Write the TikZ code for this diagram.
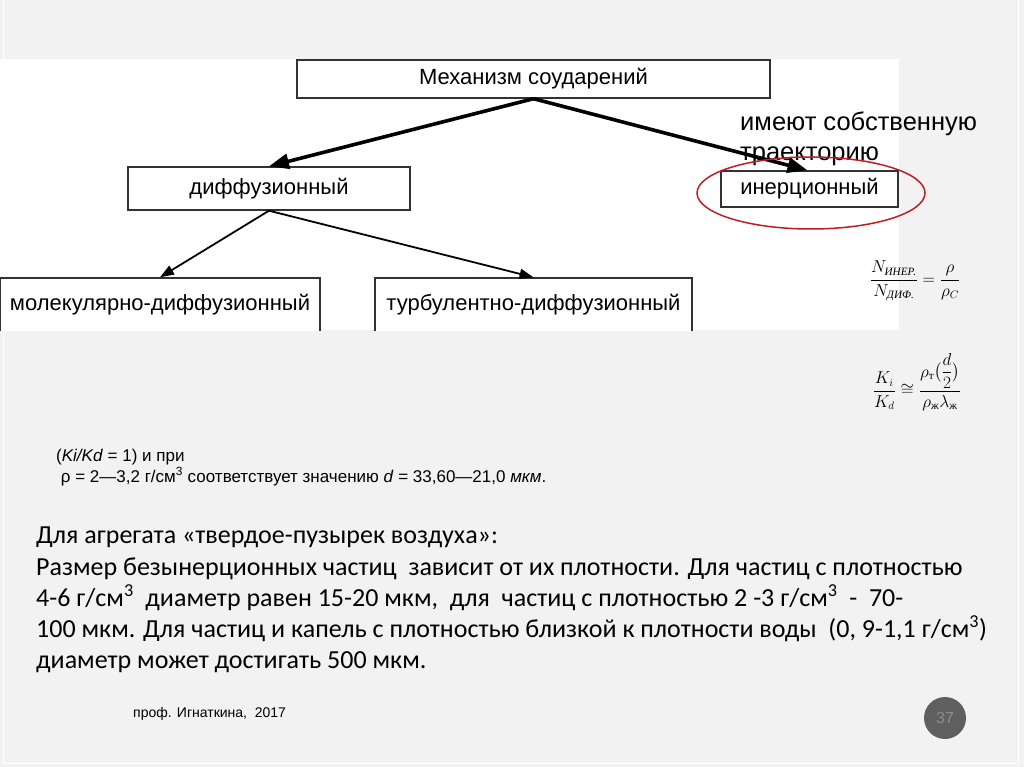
\documentclass[tikz,border=0pt]{standalone}
\usepackage{amsmath}
\usepackage{amssymb}
\usepackage{fontspec}
\setmainfont{Liberation Sans}
\newfontfamily\calibri{Carlito}
\newfontfamily\timescyr{Liberation Serif}
\usetikzlibrary{positioning,arrows.meta,shapes.geometric}

\definecolor{slidegray}{RGB}{242,242,242}
\definecolor{boxline}{RGB}{50,50,50}
\definecolor{ringred}{RGB}{190,30,35}
\definecolor{badge}{RGB}{95,95,95}
\definecolor{badgetext}{RGB}{140,140,140}

\tikzset{
  box/.style={draw=boxline,line width=1.4pt,fill=white,inner sep=0pt,
    font=\fontsize{22}{26}\selectfont},
  bigarrow/.style={line width=3.6pt,-{Triangle[length=20pt,width=15pt]}},
  smallarrow/.style={line width=1.8pt,-{Triangle[length=14pt,width=10pt]}},
  paraline/.style={anchor=base west,inner sep=0pt,font=\calibri\fontsize{26}{31}\selectfont},
  noteline/.style={anchor=base west,inner sep=0pt,font=\fontsize{17}{20}\selectfont},
}

\begin{document}
\begin{tikzpicture}[x=1pt,y=-1pt]
   \fill[slidegray] (0,0) rectangle (1024,767);
   \useasboundingbox (0,0) rectangle (1024,767);
   \draw[white,line width=0.8pt] (3,-2) -- (3,763) -- (1018,763) -- (1018,-2);
   \fill[white] (0,59) rectangle (899,330);

   % boxes of the scheme
   \node[box,minimum width=473,minimum height=38] (mech) at (533.5,79) {Механизм соударений};
   \node[box,minimum width=282,minimum height=43] (diff) at (269,188.5) {диффузионный};
   \node[box,minimum width=177,minimum height=36] (iner) at (809.5,189) {инерционный};
   \begin{scope}
     \clip (-2,59) rectangle (901,330);
     \node[box,minimum width=320,minimum height=54] (mol) at (160,305) {молекулярно-диффузионный};
     \node[box,minimum width=317,minimum height=54] (turb) at (533.5,305) {турбулентно-диффузионный};
   \end{scope}

   \node[anchor=base west,inner sep=0pt,align=left,font=\fontsize{25.5}{30}\selectfont] (note) at (740,161)
     {имеют собственную\\траекторию};

   \path
    (mech.south) edge[bigarrow] (diff.north)
    (mech.south) edge[bigarrow] ([xshift=-2pt]iner.north)
    (diff.south) edge[smallarrow] (mol.north)
    (diff.south) edge[smallarrow] (turb.north);

   \node[draw=ringred,line width=1.5pt,ellipse,minimum width=228,minimum height=72] (ring) at (811,193) {};

   % formulas
   \node[inner sep=0pt,font=\fontsize{16}{19}\selectfont] (ratio) at (915,281)
     {$\dfrac{N_{\text{\timescyr\itshape ИНЕР.}}}{N_{\text{\timescyr\itshape ДИФ.}}}=\dfrac{\rho}{\rho_C}$};
   \node[inner sep=0pt,font=\fontsize{16}{19}\selectfont] (stokes) at (917,382)
     {$\dfrac{K_i}{K_d}\cong\dfrac{\rho_{\text{\timescyr т}}\bigl(\dfrac{d}{2}\bigr)}{\rho_{\text{\timescyr ж}}\lambda_{\text{\timescyr ж}}}$};

   \node[noteline] (kk1) at (56,461) {(\textit{Ki/Kd} = 1) и при};
   \node[noteline] (kk2) at (56,482) {\ ρ = 2—3,2 г/см\textsuperscript{3} соответствует значению \textit{d} = 33,60—21,0 \textit{мкм}.};

   % text block
   \node[paraline] (p1) at (36,543) {Для агрегата «твердое-пузырек воздуха»:};
   \node[paraline] (p2) at (36,575) {Размер безынерционных частиц\ \ зависит от их плотности. Для частиц с плотностью};
   \node[paraline] (p3) at (36,606) {4-6 г/см\textsuperscript{3}\ \ диаметр равен 15-20 мкм,\ \ для\ \ частиц с плотностью 2 -3 г/см\textsuperscript{3}\ \ -\ \ 70-};
   \node[paraline] (p4) at (36,637) {100 мкм. Для частиц и капель с плотностью близкой к плотности воды\ \ (0, 9-1,1 г/см\textsuperscript{3})};
   \node[paraline] (p5) at (36,668) {диаметр может достигать 500 мкм.};

   % footer
   \node[anchor=west,inner sep=0pt,font=\fontsize{14}{16}\selectfont] (author) at (133,714) {проф. Игнаткина,\ \ 2017};
   \node[circle,fill=badge,minimum size=42,inner sep=0pt,text=badgetext,font=\fontsize{16}{18}\selectfont] (page) at (945,718) {37};
\end{tikzpicture}
\end{document}
